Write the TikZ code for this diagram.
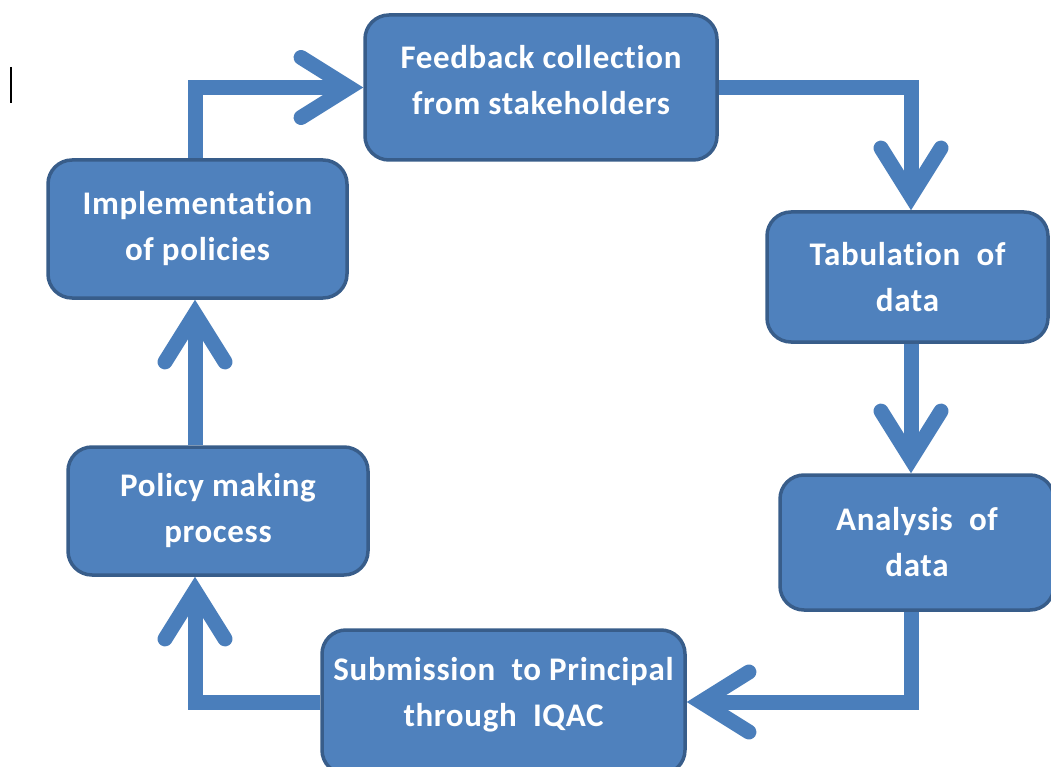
\documentclass[tikz,border=0pt]{standalone}
\usepackage{fontspec}
\setmainfont[Ligatures=NoCommon,LetterSpace=2]{Carlito}
\usetikzlibrary{arrows.meta}
\pgfdeclarelayer{background}
\pgfsetlayers{background,main}
\definecolor{boxfill}{HTML}{4F81BD}
\definecolor{boxline}{HTML}{385D8A}
\definecolor{flowblue}{HTML}{4A7EBB}
\tikzset{
  stagebox/.style={draw=boxline, line width=3.5pt, fill=boxfill, rounded corners=24pt,
    text=white, font=\fontsize{33}{46}\selectfont\bfseries, align=center, inner sep=0pt},
  flow/.style={draw=flowblue, line width=15pt, line join=miter,
    -{Straight Barb[length=48pt,width=60pt,line cap=round,line join=miter]}}
}
\begin{document}
\begin{tikzpicture}[x=1pt,y=-1pt]
\useasboundingbox (0,0) rectangle (1051,767);
\draw[line width=2pt] (11,67) -- (11,103);
\node[stagebox, minimum width=352pt, minimum height=145pt, text depth=15pt] (n1) at (541,87.5) {Feedback collection\\from stakeholders};
\node[stagebox, minimum width=281pt, minimum height=130pt] (n2) at (907.5,277) {Tabulation~ of\\data};
\node[stagebox, minimum width=274pt, minimum height=135pt] (n3) at (917,542.5) {Analysis~ of\\data};
\node[stagebox, minimum width=363pt, minimum height=144pt, text depth=20pt] (n4) at (503.5,702) {Submission~ to Principal\\through~ IQAC};
\node[stagebox, minimum width=300pt, minimum height=128pt] (n5) at (218,511) {Policy making\\process};
\node[stagebox, minimum width=299pt, minimum height=138pt] (n6) at (197.5,229) {Implementation\\of policies};
\coordinate (L) at (195,0);
\coordinate (R) at (911,0);
\begin{pgfonlayer}{background}
\draw[flow] (n6.north -| L) |- (n1.west);
\draw[flow] (n1.east) -| (n2.north -| R);
\draw[flow] (n2.south -| R) -- (n3.north -| R);
\draw[flow] (n3.south -| R) |- (n4.east);
\draw[flow] (n4.west) -| (n5.south -| L);
\draw[flow] (n5.north -| L) -- (n6.south -| L);
\end{pgfonlayer}
\end{tikzpicture}
\end{document}
